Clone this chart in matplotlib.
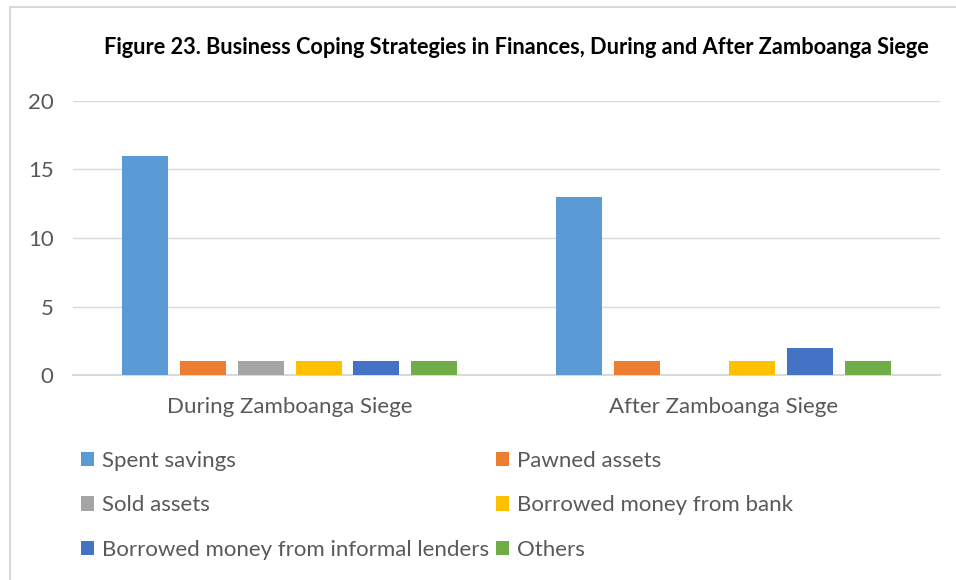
import matplotlib
matplotlib.use("Agg")
import matplotlib.pyplot as plt
import numpy as np
from matplotlib.patches import Rectangle

categories = ["During Zamboanga Siege", "After Zamboanga Siege"]
series_names = [
    "Spent savings",
    "Pawned assets",
    "Sold assets",
    "Borrowed money from bank",
    "Borrowed money from informal lenders",
    "Others",
]
spent_savings = [16, 13]
pawned_assets = [1, 1]
sold_assets = [1, 0]
borrowed_bank = [1, 1]
borrowed_informal = [1, 2]
others = [1, 1]
series_values = [spent_savings, pawned_assets, sold_assets,
                 borrowed_bank, borrowed_informal, others]
colors = ["#5B9BD5", "#ED7D31", "#A5A5A5", "#FFC000", "#4472C4", "#70AD47"]
title = "Figure 23. Business Coping Strategies in Finances, During and After Zamboanga Siege"

plt.rcParams["font.family"] = ["Lato", "DejaVu Sans"]
text_color = "#595959"

fig = plt.figure(figsize=(9.56, 5.80), dpi=100)
ax = fig.add_axes([0.0764, 0.3534, 0.9069, 0.4725])

x = np.arange(len(categories))
pitch = 0.1333
width = 0.106
handles = []
for i, (name, vals, c) in enumerate(zip(series_names, series_values, colors)):
    offs = (i - 2.5) * pitch
    b = ax.bar(x + offs, vals, width, color=c, label=name, zorder=3)
    handles.append(b)

ax.set_xlim(-0.5, 1.5)
ax.set_ylim(0, 20)
ax.set_yticks([0, 5, 10, 15, 20])
ax.set_xticks(x)
ax.set_xticklabels(categories)
ax.grid(axis="y", color="#D9D9D9", linewidth=1.0, zorder=0)
for s in ["top", "right", "left"]:
    ax.spines[s].set_visible(False)
ax.spines["bottom"].set_color("#D9D9D9")
ax.spines["bottom"].set_linewidth(1.5)
ax.tick_params(axis="both", length=0, labelsize=16, colors=text_color)
ax.tick_params(axis="y", pad=14)
ax.tick_params(axis="x", pad=16)

fig.text(0.54, 0.918, title, ha="center", va="center", fontsize=15.7,
         fontweight="bold", color="black")

order = [0, 2, 4, 1, 3, 5]
leg = fig.legend([handles[i] for i in order], [series_names[i] for i in order],
                 ncol=2, loc="upper left", bbox_to_anchor=(0.075, 0.238),
                 frameon=False, fontsize=16, handlelength=0.6, handleheight=0.6,
                 handletextpad=0.35, columnspacing=0.33, labelspacing=1.1,
                 labelcolor=text_color, borderaxespad=0.0)

fig.patches.append(Rectangle((10 / 956, -0.1), 1.2, 1 - 7 / 580 + 0.1,
                             transform=fig.transFigure, fill=False,
                             edgecolor="#D9D9D9", linewidth=1.5))

fig.savefig("out.png", dpi=100)
